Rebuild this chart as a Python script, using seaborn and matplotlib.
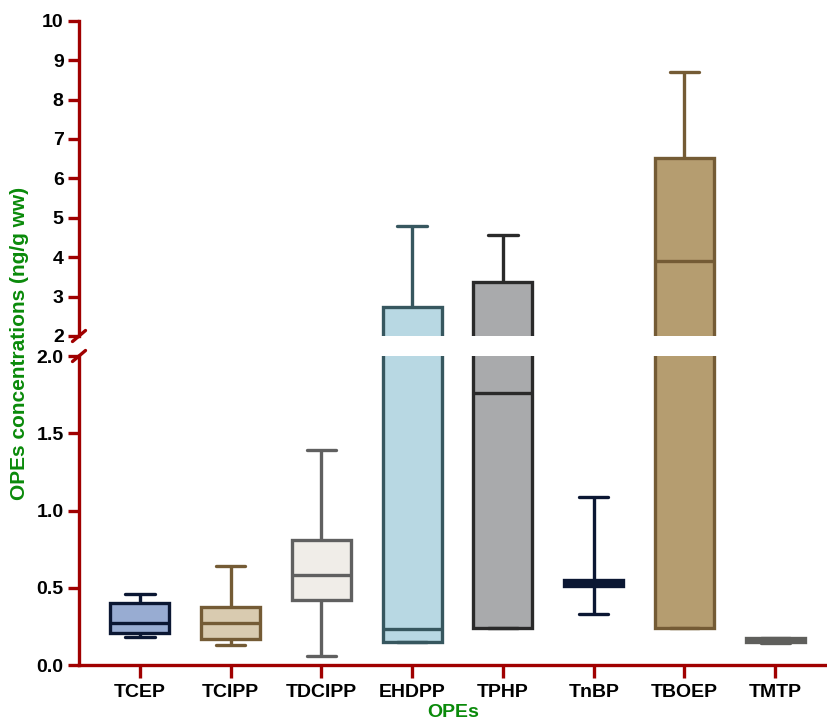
import numpy as np
import pandas as pd
import seaborn as sns
import matplotlib
matplotlib.use("Agg")
import matplotlib.pyplot as plt

# five-number summaries (ng/g ww)
cats = ["TCEP", "TCIPP", "TDCIPP", "EHDPP", "TPHP", "TnBP", "TBOEP", "TMTP"]
mins = [0.18, 0.13, 0.06, 0.15, 0.24, 0.33, 0.24, 0.15]
q1s = [0.21, 0.17, 0.42, 0.15, 0.24, 0.51, 0.24, 0.145]
meds = [0.27, 0.27, 0.58, 0.23, 1.76, 0.53, 3.91, 0.16]
q3s = [0.40, 0.375, 0.81, 2.73, 3.37, 0.55, 6.51, 0.175]
maxs = [0.46, 0.64, 1.39, 4.78, 4.55, 1.09, 8.71, 0.175]

fills = ["#98acd2", "#d9cbb0", "#f0ede8", "#b8d8e3", "#a9aaac", "#0b1733", "#b59d70", "#5f5f5c"]
edges = ["#0b1733", "#745b35", "#606060", "#37575f", "#2a2a2a", "#0b1733", "#745b35", "#5f5f5c"]

top_ticks = [2, 3, 4, 5, 6, 7, 8, 9, 10]
bot_ticks = [0.0, 0.5, 1.0, 1.5, 2.0]

# 5 points per group -> quartiles come out exactly at the given values
rows = []
for c, a, b, m, d, e in zip(cats, mins, q1s, meds, q3s, maxs):
    for v in (a, b, m, d, e):
        rows.append({"OPE": c, "conc": v})
df = pd.DataFrame(rows)

sns.set_style("ticks")
plt.rcParams["font.family"] = ["Liberation Sans", "DejaVu Sans"]
plt.rcParams["font.weight"] = "bold"

RED = "#a00000"
GREEN = "#0a8a0a"
W, H = 827, 727

fig = plt.figure(figsize=(8.27, 7.27), dpi=100)
x0 = 79 / W
ax_top = fig.add_axes([x0, (H - 336) / H, 1 - x0, (336 - 20.7) / H])
ax_bot = fig.add_axes([x0, (H - 665) / H, 1 - x0, (665 - 356) / H])

for ax in (ax_top, ax_bot):
    for i, c in enumerate(cats):
        sub = df[df["OPE"] == c]
        sns.boxplot(data=sub, x="OPE", y="conc", order=cats, ax=ax,
                    color=fills[i], linecolor=edges[i], saturation=1,
                    width=0.65, whis=(0, 100), linewidth=2.4, fliersize=0)
    ax.set_xlim(-0.67, 7.57)
    ax.set_xlabel("")
    ax.set_ylabel("")
    for s in ("top", "right"):
        ax.spines[s].set_visible(False)
    ax.spines["left"].set_color(RED)
    ax.spines["left"].set_linewidth(2.4)
    ax.tick_params(axis="y", colors=RED, width=2.4, length=8, pad=3,
                   labelcolor="black", labelsize=14)

ax_top.set_ylim(2, 10)
ax_top.set_yticks(top_ticks)
ax_top.set_yticklabels([str(t) for t in top_ticks])
ax_top.spines["bottom"].set_visible(False)
ax_top.tick_params(axis="x", bottom=False, labelbottom=False)

ax_bot.set_ylim(0, 2.0)
ax_bot.set_yticks(bot_ticks)
ax_bot.set_yticklabels([f"{t:.1f}" for t in bot_ticks])
ax_bot.spines["bottom"].set_color(RED)
ax_bot.spines["bottom"].set_linewidth(2.4)
ax_bot.tick_params(axis="x", colors=RED, width=2.4, length=9, pad=5,
                   labelcolor="black", labelsize=14)
for lab in ax_bot.get_xticklabels() + ax_bot.get_yticklabels() + ax_top.get_yticklabels():
    lab.set_fontweight("bold")
ax_bot.set_xlabel("OPEs", color=GREEN, fontsize=14, fontweight="bold", labelpad=2)

# axis break marks
dx, dy = 6.5 / (W - 79), 5.5 / (336 - 20.7)
ax_top.plot([-dx, dx], [-dy, dy], transform=ax_top.transAxes, color=RED,
            lw=2.4, clip_on=False)
dy2 = 5.5 / (665 - 356)
ax_bot.plot([-dx, dx], [1 - dy2, 1 + dy2], transform=ax_bot.transAxes, color=RED,
            lw=2.4, clip_on=False)

fig.text(20 / W, (H - 343) / H, "OPEs concentrations (ng/g ww)", rotation=90,
         color=GREEN, fontsize=15, fontweight="bold", ha="center", va="center")

fig.savefig("out.png", dpi=100)
